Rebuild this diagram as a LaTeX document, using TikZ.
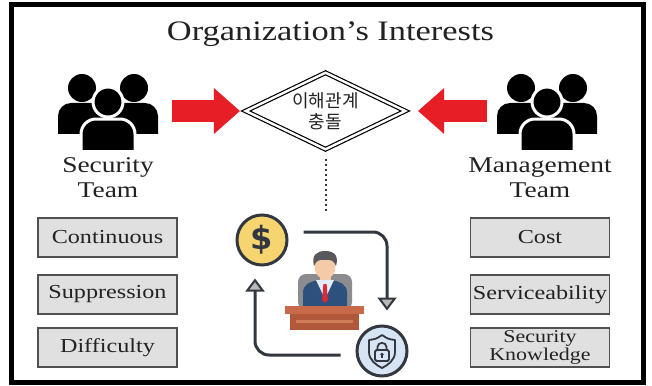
\documentclass[tikz,border=0pt]{standalone}
\usepackage{fontspec}
\setmainfont{Liberation Serif}[FakeStretch=1.22]
\newfontfamily\kofont{Noto Sans CJK KR}
\newfontfamily\iconfont{DejaVu Sans}
\usetikzlibrary{shapes.geometric,arrows.meta,calc}

\definecolor{arrowred}{RGB}{232,30,38}
\definecolor{boxgray}{RGB}{224,224,224}
\definecolor{boxline}{RGB}{80,80,80}
\definecolor{inkdark}{RGB}{50,55,64}
\definecolor{textdark}{RGB}{34,34,34}
\definecolor{coinyellow}{RGB}{246,212,112}
\definecolor{lockblue}{RGB}{214,228,243}
\definecolor{desktop}{RGB}{198,106,74}
\definecolor{deskbody}{RGB}{178,88,58}
\definecolor{deskstripe}{RGB}{208,124,88}
\definecolor{chairgray}{RGB}{140,140,144}
\definecolor{suitblue}{RGB}{46,80,124}
\definecolor{shirtblue}{RGB}{226,236,246}
\definecolor{skin}{RGB}{245,202,168}
\definecolor{hairgray}{RGB}{88,88,94}
\definecolor{tiered}{RGB}{222,40,52}

\tikzset{
  itembox/.style={draw=boxline, line width=1.4pt, fill=boxgray, text=textdark,
    minimum width=139pt, minimum height=39pt, inner sep=0pt, align=center,
    font=\fontsize{19.8}{21}\selectfont},
  teamlabel/.style={align=center, text=textdark, font=\fontsize{22.5}{25}\selectfont},
  iconspot/.style={minimum width=100pt, minimum height=75pt, inner sep=0pt},
  conflictbox/.style={diamond, draw=black, double=white, double distance=2.4pt,
    line width=1.2pt, minimum width=160pt, minimum height=77pt, aspect=2,
    inner sep=0pt, align=center, text=textdark,
    font=\kofont\fontsize{18}{21.5}\selectfont},
  bigarrow/.style={draw=arrowred, line width=22pt,
    -{Triangle[length=26pt,width=46pt,line width=0pt]}},
  dotline/.style={draw=inkdark, line width=2pt, dash pattern=on 2pt off 3pt},
  cyc/.style={draw=inkdark, line width=3pt, rounded corners=14pt,
    -{Triangle[length=13pt,width=19pt,line width=2pt,fill=gray!55]}},
  ringnode/.style={circle, draw=inkdark, line width=3pt, minimum size=50pt, inner sep=0pt},
}

% three-person group icon centred on a node
\newcommand\teamicon[1]{%
  \begin{scope}[shift={(#1)}]
    \fill (-26,-23) circle (14);
    \fill (26,-23) circle (14);
    \begin{scope}
      \clip (-60,-40) rectangle (60,22);
      \fill[rounded corners=13pt] (-50,-8) rectangle (-3,50);
      \fill[rounded corners=13pt] (3,-8) rectangle (50,50);
    \end{scope}
    \begin{scope}
      \clip (-60,-40) rectangle (60,38);
      \filldraw[draw=white, line width=3pt, rounded corners=15pt] (-27,8) rectangle (27,70);
    \end{scope}
    \filldraw[draw=white, line width=3pt] (0,-9) circle (15);
  \end{scope}}

\begin{document}
\begin{tikzpicture}[x=1pt, y=-1pt]
  \useasboundingbox (0,0) rectangle (652,385);
  \fill[white] (0,0) rectangle (652,385);
  \draw[line width=5pt] (11.5,5) rectangle (643.5,382.5);

  % title
  \node[text=textdark, font=\fontsize{28.2}{30}\selectfont] (title) at (330.5,34) {Organization’s Interests};

  % the two teams
  \node[iconspot] (secIcon) at (108,111) {};
  \node[iconspot] (mgmtIcon) at (547,111) {};
  \teamicon{secIcon.center}
  \teamicon{mgmtIcon.center}
  \node[teamlabel] (secLabel) at (108,178) {Security\\Team};
  \node[teamlabel] (mgmtLabel) at (540,178) {Management\\Team};

  % conflict of interest
  \node[conflictbox] (conflict) at (325.5,111) {이해관계\\충돌};
  \draw[bigarrow, shorten <=14pt, shorten >=5pt] (secIcon.east) -- (conflict.west);
  \draw[bigarrow, shorten <=10pt, shorten >=12pt] (mgmtIcon.west) -- (conflict.east);
  \coordinate (dotEnd) at (325.5,214);
  \draw[dotline, shorten <=9pt] (conflict.south) -- (dotEnd);

  % interests of each team
  \node[itembox] (contBox) at (107.5,237.5) {Continuous};
  \node[itembox] (suppBox) at (107.5,294.5) {Suppression};
  \node[itembox] (diffBox) at (107.5,347.5) {Difficulty};
  \node[itembox] (costBox) at (540,237.5) {Cost};
  \node[itembox] (servBox) at (540,294.5) {Serviceability};
  \node[itembox, font=\fontsize{18}{15.5}\selectfont] (knowBox) at (540,347.5) {Security\\Knowledge};

  % cost / security cycle
  \node[ringnode, fill=coinyellow, text=inkdark, font=\iconfont\bfseries\fontsize{32}{32}\selectfont] (coin) at (262,240) {\$};
  \node[ringnode, fill=lockblue] (lock) at (382,351) {};
  \begin{scope}[shift={(lock.center)}, draw=inkdark, line width=1.8pt, line join=round]
    \draw (0,-16) .. controls (-6,-12) .. (-13,-11) -- (-13,1)
      .. controls (-13,9) and (-6,14) .. (0,17)
      .. controls (6,14) and (13,9) .. (13,1) -- (13,-11)
      .. controls (6,-12) .. (0,-16) -- cycle;
    \draw (-4.5,-1) -- (-4.5,-4) .. controls (-4.5,-9.5) and (4.5,-9.5) .. (4.5,-4) -- (4.5,-1);
    \draw[rounded corners=1.5pt] (-7,-1) rectangle (7,10);
    \fill[inkdark] (0,3.5) circle (1.8);
    \draw[line width=1.4pt] (0,4) -- (0,7);
  \end{scope}
  \draw[cyc] ($(coin.east)+(15,-8)$) -| ($(lock.north)+(5,-14)$);
  \draw[cyc] ($(lock.west)+(-15,4)$) -| ($(coin.south)+(-7,12)$);

  % manager at the desk
  \fill[chairgray, rounded corners=8pt] (298,274) rectangle (352,310);
  \fill[suitblue] (303,307) -- (303,293) .. controls (303,284) and (310,282) .. (318,280)
    -- (332,280) .. controls (340,282) and (347,284) .. (347,293) -- (347,307) -- cycle;
  \fill[skin] (319.5,272) rectangle (330.5,282);
  \fill[shirtblue] (316,280) -- (325,299) -- (334,280) -- cycle;
  \fill[tiered] (323.4,284) -- (326.6,284) -- (327.8,300) -- (325,303) -- (322.2,300) -- cycle;
  \fill[skin] (325,267) ellipse (10.5 and 12);
  \fill[hairgray] (314,266) .. controls (311,255) and (317,251) .. (325,251)
    .. controls (334,251) and (339,255) .. (336,266)
    .. controls (334,261) and (331,259) .. (325,260)
    .. controls (319,259) and (316,261) .. (314,266) -- cycle;
  \fill[desktop] (285,306) rectangle (364,314);
  \fill[deskbody] (290,314) rectangle (359,330);
  \fill[deskstripe] (296,320) rectangle (353,323);
\end{tikzpicture}
\end{document}
